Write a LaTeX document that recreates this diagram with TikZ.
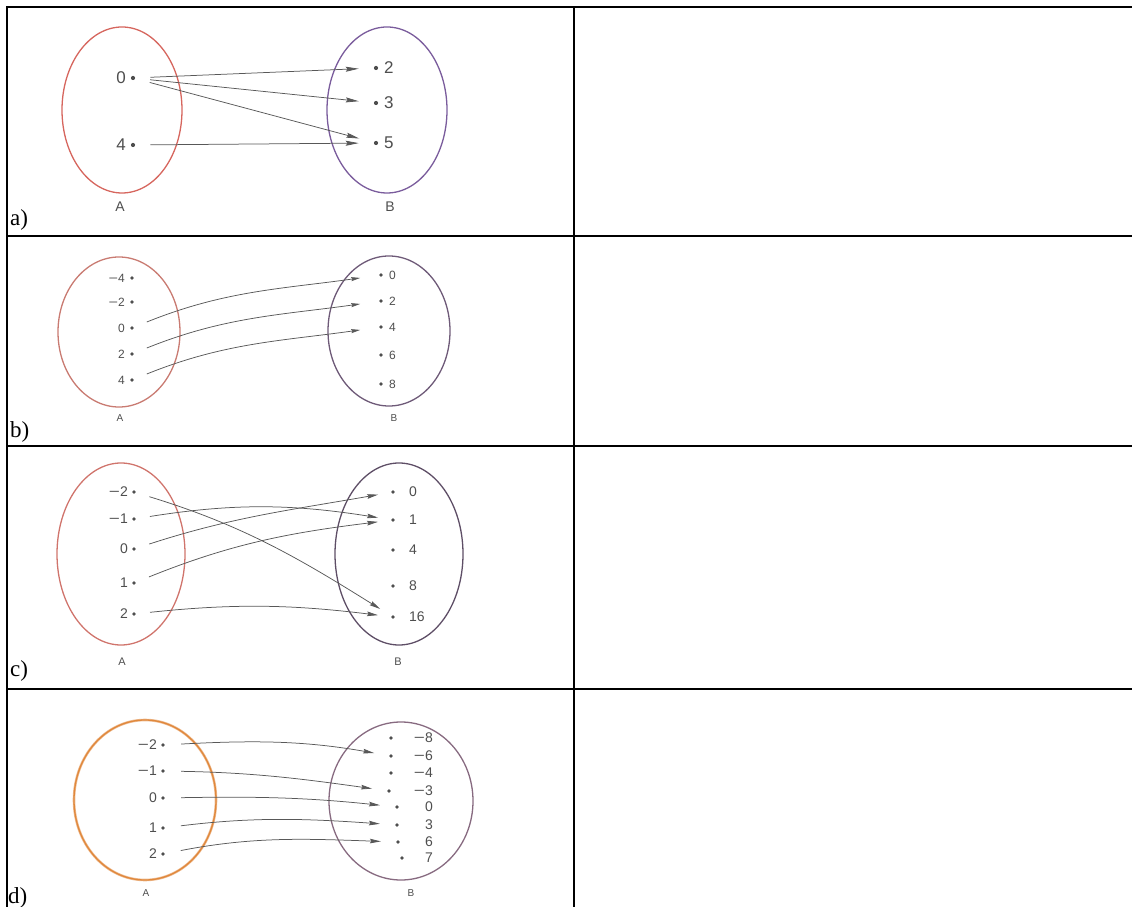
\documentclass[tikz,border=0pt]{standalone}
\usepackage{fontspec}
\setmainfont{Liberation Serif}
\setsansfont{Liberation Sans}
\usetikzlibrary{arrows.meta}

\definecolor{ink}{HTML}{4E4E4E}
\definecolor{arrowc}{HTML}{585858}
\definecolor{setAa}{HTML}{D6665E}
\definecolor{setAb}{HTML}{C97B72}
\definecolor{setAc}{HTML}{D0746C}
\definecolor{setAd}{HTML}{E0883C}
\definecolor{setBa}{HTML}{7A5C9C}
\definecolor{setBb}{HTML}{6E5A78}
\definecolor{setBc}{HTML}{5E4E66}
\definecolor{setBd}{HTML}{876A80}

% a long minus sign, as in the printed sets
\newcommand\Mns{\scalebox{1.35}[1]{−}}

\tikzset{
  rule/.style={line width=1.8pt, black},
  ring/.style={line width=1.3pt},
  pdot/.style={circle, fill=ink, inner sep=0pt, minimum size=3.8pt},
  num/.style={text=ink, inner sep=0pt, font=\sffamily\fontsize{14}{14}\selectfont},
  setname/.style={text=ink, inner sep=0pt, font=\sffamily\fontsize{11}{11}\selectfont},
  rowtag/.style={inner sep=0pt, anchor=base west, font=\fontsize{23}{23}\selectfont},
  maps/.style={draw=arrowc, line width=0.75pt,
    -{Stealth[length=11pt,width=4.6pt,inset=1.5pt]},
    shorten <=14pt, shorten >=15pt},
}

% point with its value written to the left / to the right
\newcommand\LeftPt[4]{\node[pdot] (#1) at (#2) {};
  \node[num, anchor=east] (#1t) at ([xshift=-#3]#1.center) {#4};}
\newcommand\RightPt[4]{\node[pdot] (#1) at (#2) {};
  \node[num, anchor=west] (#1t) at ([xshift=#3]#1.center) {#4};}

\begin{document}
\begin{tikzpicture}[x=1pt, y=1pt]
\useasboundingbox (0,0) rectangle (1132,906);

% ---------- table rules ----------
\draw[rule] (6.7,-5) -- (6.7,899.3) -- (1140,899.3);
\draw[rule] (573.7,-5) -- (573.7,899.3);
\draw[rule] (6.7,670.3) -- (1140,670.3);
\draw[rule] (6.7,459.7) -- (1140,459.7);
\draw[rule] (6.7,216.7) -- (1140,216.7);

% ---------- a) ----------
\begin{scope}[num/.append style={font=\sffamily\fontsize{17}{17}\selectfont},
              pdot/.append style={minimum size=4.2pt},
              setname/.append style={font=\sffamily\fontsize{14}{14}\selectfont},
              maps/.append style={shorten <=15pt, shorten >=15pt,
                -{Stealth[length=13pt,width=5pt,inset=1.8pt]}}]
  \draw[ring, setAa] (122,796) ellipse [x radius=60pt, y radius=83pt];
  \draw[ring, setBa] (387,796) ellipse [x radius=60pt, y radius=83pt];
  \node[setname] (nAa) at (120,699) {A};
  \node[setname] (nBa) at (390,699) {B};
  \LeftPt{a0}{133,828}{7pt}{0}
  \LeftPt{a4}{133,761}{7pt}{4}
  \RightPt{b2}{376,838}{8pt}{2}
  \RightPt{b3}{376,803}{8pt}{3}
  \RightPt{b5}{376,763}{8pt}{5}
  \draw[maps] (a0) -- (b2);
  \draw[maps] (a0) -- (b3);
  \draw[maps] (a0) -- (b5);
  \draw[maps] (a4) -- (b5);
  \node[rowtag] (tagA) at (10,680) {a)};
\end{scope}

% ---------- b) ----------
\begin{scope}[num/.append style={font=\sffamily\fontsize{12}{12}\selectfont},
              pdot/.append style={minimum size=3.6pt},
              setname/.append style={font=\sffamily\fontsize{10}{10}\selectfont},
              maps/.append style={shorten <=14pt, shorten >=19pt,
                -{Stealth[length=9pt,width=4pt,inset=1.2pt]}}]
  \draw[ring, setAb] (119,574) ellipse [x radius=61pt, y radius=75pt];
  \draw[ring, setBb] (389,575) ellipse [x radius=61pt, y radius=75pt];
  \node[setname] (nAb) at (120,488) {A};
  \node[setname] (nBb) at (394,488) {B};
  \LeftPt{pm4}{132,628}{7pt}{\Mns4}
  \LeftPt{pm2}{132,604}{7pt}{\Mns2}
  \LeftPt{p0}{132,578}{7pt}{0}
  \LeftPt{p2}{132,552}{7pt}{2}
  \LeftPt{p4}{132,526}{7pt}{4}
  \RightPt{q0}{381,631}{8pt}{0}
  \RightPt{q2}{381,605}{8pt}{2}
  \RightPt{q4}{381,579}{8pt}{4}
  \RightPt{q6}{381,551}{8pt}{6}
  \RightPt{q8}{381,522}{8pt}{8}
  \draw[maps] (p0) to[out=22, in=188] (q0);
  \draw[maps] (p2) to[out=22, in=188] (q2);
  \draw[maps] (p4) to[out=22, in=188] (q4);
  \node[rowtag] (tagB) at (10,468) {b)};
\end{scope}

% ---------- c) ----------
\begin{scope}[num/.append style={font=\sffamily\fontsize{14}{14}\selectfont},
              setname/.append style={font=\sffamily\fontsize{11}{11}\selectfont},
              maps/.append style={shorten <=14pt, shorten >=13pt}]
  \draw[ring, setAc] (121,352) ellipse [x radius=64pt, y radius=91pt];
  \draw[ring, setBc] (399,352) ellipse [x radius=64pt, y radius=91pt];
  \node[setname] (nAc) at (122,244) {A};
  \node[setname] (nBc) at (398,244) {B};
  \LeftPt{cm2}{134,414}{6pt}{\Mns2}
  \LeftPt{cm1}{134,387}{6pt}{\Mns1}
  \LeftPt{c0}{134,357}{6pt}{0}
  \LeftPt{c1}{134,323}{6pt}{1}
  \LeftPt{c2}{134,292}{6pt}{2}
  \node[pdot] (d0) at (393,414) {};
  \node[pdot] (d1) at (393,386) {};
  \node[pdot] (d4) at (393,356) {};
  \node[pdot] (d8) at (393,320) {};
  \node[pdot] (d16) at (393,289) {};
  \node[num, anchor=west] (d0t) at (409,414) {0};
  \node[num, anchor=west] (d1t) at (409,386) {1};
  \node[num, anchor=west] (d4t) at (409,356) {4};
  \node[num, anchor=west] (d8t) at (409,320) {8};
  \node[num, anchor=west] (d16t) at (409,289) {16};
  \draw[maps] (cm2) to[out=-17, in=148] (d16);
  \draw[maps] (cm1) to[out=9, in=171] (d1);
  \draw[maps] (c0) to[out=18, in=190] (d0);
  \draw[maps] (c1) to[out=22, in=187] (d1);
  \draw[maps] (c2) to[out=6, in=173] (d16);
  \node[rowtag] (tagC) at (10,230) {c)};
\end{scope}

% ---------- d) ----------
\begin{scope}[num/.append style={font=\sffamily\fontsize{14}{14}\selectfont},
              setname/.append style={font=\sffamily\fontsize{10}{10}\selectfont},
              maps/.append style={shorten <=16pt, shorten >=15pt}]
  \draw[line width=2.6pt, setAd!55] (145,106) ellipse [x radius=71pt, y radius=80pt];
  \draw[line width=1.3pt, setAd] (145,106) ellipse [x radius=71pt, y radius=80pt];
  \draw[ring, setBd] (401,105) ellipse [x radius=72pt, y radius=79pt];
  \node[setname] (nAd) at (146,13) {A};
  \node[setname] (nBd) at (411,13) {B};
  \LeftPt{em2}{163,161}{6pt}{\Mns2}
  \LeftPt{em1}{163,135}{6pt}{\Mns1}
  \LeftPt{e0}{163,108}{6pt}{0}
  \LeftPt{e1}{163,78}{6pt}{1}
  \LeftPt{e2}{163,52}{6pt}{2}
  \node[pdot] (fm8) at (391,168) {};
  \node[pdot] (fm6) at (391,150) {};
  \node[pdot] (fm4) at (391,133) {};
  \node[pdot] (fm3) at (389,115) {};
  \node[pdot] (f0) at (397,99) {};
  \node[pdot] (f3) at (397,81) {};
  \node[pdot] (f6) at (398,64) {};
  \node[pdot] (f7) at (402,48) {};
  \node[num, anchor=east] (fm8t) at (433,168) {\Mns8};
  \node[num, anchor=east] (fm6t) at (433,150) {\Mns6};
  \node[num, anchor=east] (fm4t) at (433,133) {\Mns4};
  \node[num, anchor=east] (fm3t) at (433,115) {\Mns3};
  \node[num, anchor=east] (f0t) at (433,99) {0};
  \node[num, anchor=east] (f3t) at (433,81) {3};
  \node[num, anchor=east] (f6t) at (433,64) {6};
  \node[num, anchor=east] (f7t) at (433,48) {7};
  \draw[maps] (em2) to[out=3, in=170] (fm6);
  \draw[maps] (em1) to[out=-1, in=172] (fm3);
  \draw[maps] (e0) to[out=1, in=174] (f0);
  \draw[maps] (e1) to[out=7, in=176] (f3);
  \draw[maps] (e2) to[out=11, in=178] (f6);
  \node[rowtag] (tagD) at (8,3) {d)};
\end{scope}
\end{tikzpicture}
\end{document}
